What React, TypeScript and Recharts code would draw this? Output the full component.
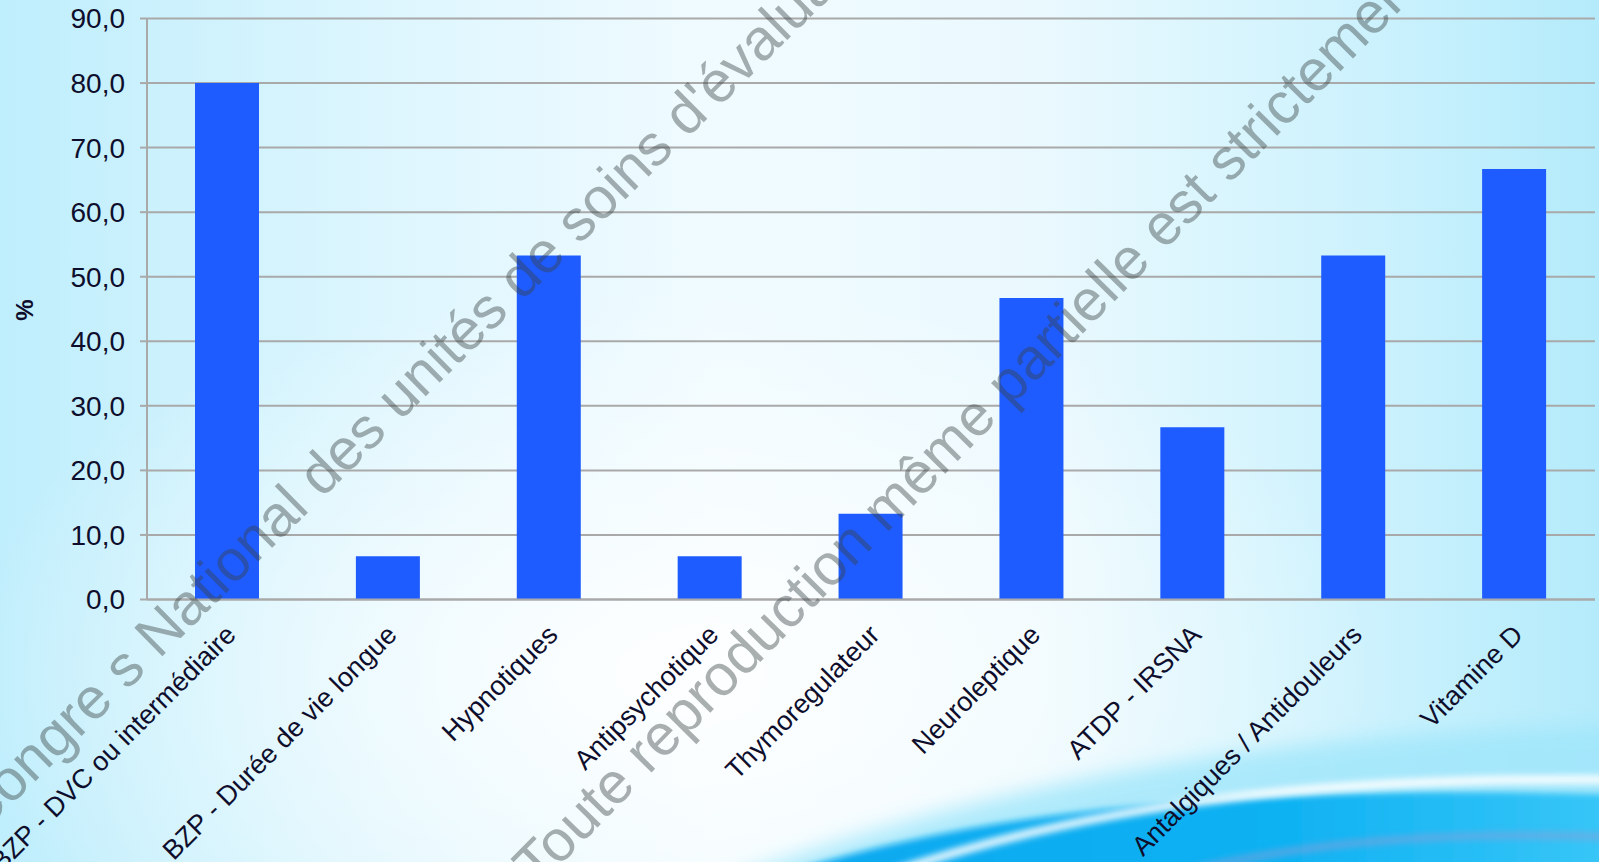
import { BarChart, Bar, XAxis, YAxis, CartesianGrid } from "recharts";

const categories = [
  "BZP - DVC ou intermédiaire",
  "BZP - Durée de vie longue",
  "Hypnotiques",
  "Antipsychotique",
  "Thymoregulateur",
  "Neuroleptique",
  "ATDP - IRSNA",
  "Antalgiques / Antidouleurs",
  "Vitamine D",
];
const percentages = [80.0, 6.7, 53.3, 6.7, 13.3, 46.7, 26.7, 53.3, 66.7];
const yTicks = [0, 10, 20, 30, 40, 50, 60, 70, 80, 90];
// tick marks sit between the categories, not under them
const boundaryTicks = [0, 1, 2, 3, 4, 5, 6, 7, 8, 9];

const chartData = categories.map((name, i) => ({ name, value: percentages[i] }));

const WIDTH = 1599;
const HEIGHT = 862;
const FONT = '"Liberation Sans", Arial, sans-serif';
const TEXT = "#0e0e2c";
const GRID = "#a9a9a9";
const BAR = "#1f5cff";

const CategoryTick = ({ x, y, payload }: any) => (
  <g transform={`translate(${x + 10},${y + 30})`}>
    <text
      x={0}
      y={0}
      textAnchor="end"
      transform="rotate(-45)"
      fill={TEXT}
      fontSize={27}
      fontFamily={FONT}
    >
      {payload.value}
    </text>
  </g>
);

const PercentLabel = ({ viewBox }: any) => {
  const cy = viewBox.y + viewBox.height / 2 + 1;
  return (
    <text
      x={24}
      y={cy}
      transform={`rotate(-90, 24, ${cy})`}
      textAnchor="middle"
      dominantBaseline="central"
      fill={TEXT}
      fontSize={24}
      fontWeight="bold"
      fontFamily={FONT}
    >
      %
    </text>
  );
};

function Backdrop() {
  return (
    <svg width={WIDTH} height={HEIGHT} style={{ position: "absolute", left: 0, top: 0 }}>
      <defs>
        <linearGradient id="bgGrad" x1="0" y1="0" x2="1" y2="0">
          <stop offset="0" stopColor="#bfeefc" />
          <stop offset="0.25" stopColor="#def6fe" />
          <stop offset="0.45" stopColor="#f0fbff" />
          <stop offset="0.65" stopColor="#eaf9fe" />
          <stop offset="0.85" stopColor="#cdf2fd" />
          <stop offset="1" stopColor="#b4ebfb" />
        </linearGradient>
        <radialGradient id="glowGrad" cx="0.42" cy="0.78" r="0.45">
          <stop offset="0" stopColor="#ffffff" stopOpacity={0.9} />
          <stop offset="0.6" stopColor="#ffffff" stopOpacity={0.35} />
          <stop offset="1" stopColor="#ffffff" stopOpacity={0} />
        </radialGradient>
        <linearGradient id="waveGrad" x1="0" y1="0" x2="1" y2="0">
          <stop offset="0" stopColor="#0aa8f0" />
          <stop offset="0.6" stopColor="#10b2f3" />
          <stop offset="1" stopColor="#3cc8f8" />
        </linearGradient>
        <filter id="blurBig" x="-10%" y="-50%" width="120%" height="200%">
          <feGaussianBlur stdDeviation="10" />
        </filter>
        <filter id="blurSmall" x="-10%" y="-50%" width="120%" height="200%">
          <feGaussianBlur stdDeviation="3" />
        </filter>
      </defs>
      <rect width={WIDTH} height={HEIGHT} fill="url(#bgGrad)" />
      <rect width={WIDTH} height={HEIGHT} fill="url(#glowGrad)" />
      <path
        d="M 700 890 C 1000 775, 1300 730, 1640 725 L 1640 900 Z"
        fill="#9fe6fb"
        opacity={0.8}
        filter="url(#blurBig)"
      />
      <path
        d="M 765 880 C 1000 800, 1300 785, 1640 795 L 1640 900 Z"
        fill="url(#waveGrad)"
        filter="url(#blurSmall)"
      />
      <path
        d="M 870 880 C 1100 798, 1350 775, 1640 780"
        stroke="#ffffff"
        strokeWidth={9}
        fill="none"
        opacity={0.85}
        filter="url(#blurSmall)"
      />
      <path
        d="M 1150 880 C 1300 840, 1450 830, 1640 838"
        stroke="#8c9fd8"
        strokeWidth={8}
        fill="none"
        opacity={0.5}
        filter="url(#blurSmall)"
      />
    </svg>
  );
}

function Watermark() {
  const style = {
    fontSize: 58,
    fontFamily: FONT,
    fill: "rgba(55, 65, 65, 0.42)",
  };
  return (
    <svg
      width={WIDTH}
      height={HEIGHT}
      style={{ position: "absolute", left: 0, top: 0, pointerEvents: "none" }}
    >
      <text x={-20} y={836} transform="rotate(-44.6, -20, 836)" {...style}>
        Congre s National des unités de soins d'évaluation
      </text>
      <text x={538} y={888} transform="rotate(-45.5, 538, 888)" {...style}>
        Toute reproduction même partielle est strictement
      </text>
    </svg>
  );
}

export default function App() {
  return (
    <div
      style={{
        position: "absolute",
        left: 0,
        top: 0,
        width: WIDTH,
        height: HEIGHT,
        overflow: "hidden",
      }}
    >
      <Backdrop />
      <div style={{ position: "absolute", left: 0, top: 0 }}>
        <BarChart
          width={WIDTH}
          height={HEIGHT}
          data={chartData}
          margin={{ top: 18.5, right: 4, left: 47, bottom: 62.5 }}
        >
          <CartesianGrid vertical={false} stroke={GRID} strokeWidth={2} />
          <XAxis
            xAxisId="edges"
            type="number"
            domain={[0, categories.length]}
            ticks={boundaryTicks}
            tick={false}
            tickSize={7}
            tickLine={{ stroke: GRID, strokeWidth: 2 }}
            axisLine={false}
            height={0}
          />
          <XAxis
            dataKey="name"
            interval={0}
            height={200}
            tickLine={false}
            tickMargin={0}
            tickSize={7}
            axisLine={{ stroke: GRID, strokeWidth: 2 }}
            tick={<CategoryTick />}
          />
          <YAxis
            domain={[0, 90]}
            ticks={yTicks}
            width={100}
            tickSize={7}
            tickMargin={15}
            tickFormatter={(v: number) => v.toFixed(1).replace(".", ",")}
            tick={{ fill: TEXT, fontSize: 28, fontFamily: FONT }}
            tickLine={{ stroke: GRID, strokeWidth: 2 }}
            axisLine={{ stroke: GRID, strokeWidth: 2 }}
            label={<PercentLabel />}
          />
          <Bar dataKey="value" fill={BAR} barSize={64} isAnimationActive={false} />
        </BarChart>
      </div>
      <Watermark />
    </div>
  );
}
